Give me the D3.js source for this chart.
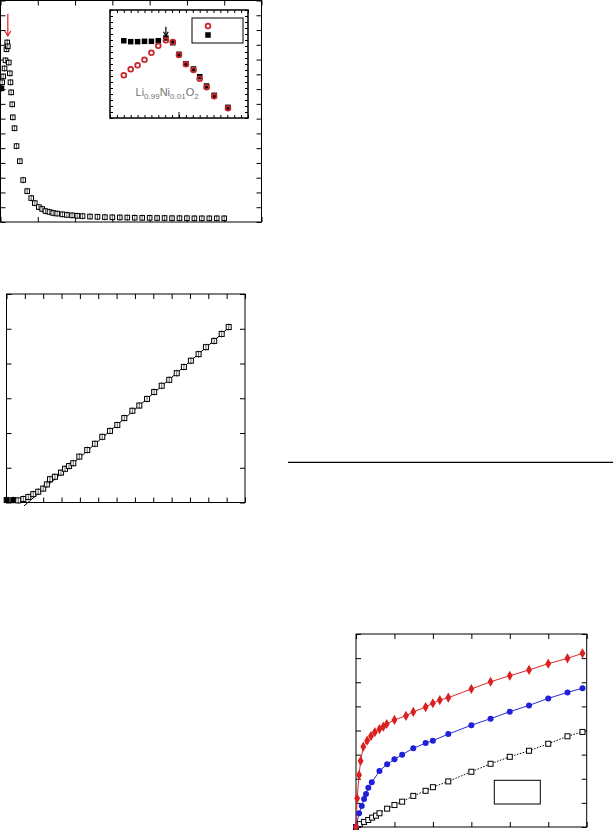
<!DOCTYPE html>
<html><head><meta charset="utf-8">
<script src="https://cdn.jsdelivr.net/npm/d3@7"></script>
<style>body{margin:0;background:#fff;}svg{display:block;}</style>
</head><body>
<svg id="c" width="613" height="830"></svg>
<script>
// ---------- Panel A: main curve (temperature, value) ----------
const mainT   = [1.3,2.3,3.6,5.4,6.7,8.0,9.0,9.8,11.1,12.5,13.4,14.3,15.7,16.5,18.8,21.5,25.9,30.4,35.8,41.2,46,51.4,55.9,60.3,65.7,70.7,76,83,89,96,103,110,120,130,140,150,160,170,180,190,200,210,220,230,240,250,260,270,280,290,300];
const mainVal = [9.05,9.46,9.86,10.4,10.95,11.7,12.16,11.9,10.8,10.07,9.46,8.78,7.97,7.09,6.35,5.14,4.12,2.84,2.09,1.62,1.28,1.01,0.88,0.74,0.68,0.61,0.57,0.52,0.48,0.45,0.42,0.40,0.37,0.35,0.33,0.32,0.31,0.30,0.29,0.28,0.28,0.27,0.27,0.26,0.26,0.26,0.25,0.25,0.25,0.25,0.25];
const mainArrow = {x: 9.8, y0: 14.1, y1: 12.6};
const mainXTicks = [0,50,100,150,200,250,300,350];
const mainYTicks = d3.range(0,16,1);

// ---------- Panel A inset ----------
const insetX     = [2,3,4,5,6,7,8.1,9.1,10,11,12.1,13,14,15.1,17.1];
const insetBlack = [12.88,12.72,12.72,12.78,12.78,12.88,13.33,12.55,10.62,9.05,8.17,6.88,5.33,3.78,1.78];
const insetRed   = [7.12,8.12,8.78,9.72,10.88,12.05,12.95,12.67,10.5,8.95,8.0,6.55,5.12,3.62,1.62];
const insetArrow = {x: 8.1, y0: 15.2, y1: 13.7};
const insetXTicks = d3.range(0,21,1);
const insetYTicks = d3.range(0,19,1);

// ---------- Panel B: linear plot ----------
const linX = [0.01,0.37,0.64,0.92,1.19,1.46,1.73,2.0,2.2,2.37,2.64,2.97,3.19,3.41,3.64,3.97,4.4,4.82,5.22,5.64,6.04,6.42,6.86,7.24,7.66,8.05,8.46,8.87,9.28,9.67,10.05,10.47,10.87,11.32,11.73,12.11];
const linY = [0.07,0.07,0.06,0.10,0.16,0.24,0.31,0.40,0.52,0.67,0.74,0.86,0.97,1.05,1.13,1.32,1.51,1.69,1.89,2.06,2.23,2.43,2.64,2.79,2.98,3.18,3.36,3.53,3.72,3.90,4.08,4.27,4.47,4.65,4.85,5.05];
const linFilled = 2;
const fitX = [0.95,12.2];
const fitY = [-0.1,5.07];
const linXTicks = d3.range(0,14,1);
const linYTicks = d3.range(0,7,1);

// ---------- Panel C: three series ----------
const redX   = [0,0.03,0.08,0.12,0.19,0.29,0.39,0.49,0.61,0.71,0.8,1.0,1.3,1.49,1.81,2.0,2.18,2.4,3.0,3.5,4.0,4.5,5.0,5.5,5.89];
const redY   = [0,1.19,2.16,2.74,3.33,3.58,3.77,3.93,4.06,4.16,4.27,4.44,4.61,4.77,4.97,5.13,5.26,5.36,5.72,6.02,6.27,6.51,6.77,6.99,7.2];
const blueX  = [0,0.08,0.15,0.21,0.26,0.32,0.41,0.61,0.81,1.0,1.2,1.49,1.81,2.0,2.4,3.0,3.5,4.0,4.5,5.0,5.5,5.89];
const blueY  = [0,0.57,0.87,1.16,1.37,1.63,1.85,2.32,2.6,2.81,3.0,3.26,3.48,3.58,3.85,4.22,4.49,4.78,5.04,5.33,5.58,5.75];
const blackX = [0,0.1,0.21,0.32,0.42,0.52,0.61,0.81,1.0,1.2,1.49,1.81,2.0,2.4,3.0,3.5,4.0,4.5,5.0,5.5,5.89];
const blackY = [0,0.12,0.21,0.29,0.39,0.47,0.57,0.76,0.91,1.05,1.29,1.5,1.65,1.89,2.29,2.62,2.91,3.16,3.45,3.76,3.94];
const cXTicks = d3.range(0,7,1);
const cYTicks = d3.range(0,9,1);

const svg = d3.select("#c");

function frame(g, x, y, xt, yt, len, sw) {
  const [x0,x1] = x.range(), [y0,y1] = y.range();
  const mk = (ax, tr) => {
    const a = g.append("g").attr("transform", tr).call(ax.tickFormat("").tickSizeOuter(0));
    a.select(".domain").remove();
    a.selectAll("line").attr("stroke","#000").attr("stroke-width",1);
  };
  mk(d3.axisBottom(x).tickValues(xt).tickSizeInner(-len), `translate(0,${y0})`);
  mk(d3.axisTop(x).tickValues(xt).tickSizeInner(-len), `translate(0,${y1})`);
  mk(d3.axisLeft(y).tickValues(yt).tickSizeInner(-len), `translate(${x0},0)`);
  mk(d3.axisRight(y).tickValues(yt).tickSizeInner(-len), `translate(${x1},0)`);
  g.append("rect").attr("x",x0).attr("y",y1).attr("width",x1-x0).attr("height",y0-y1)
    .attr("fill","none").attr("stroke","#000").attr("stroke-width",sw);
}
function arrow(g, x1, y1, x2, y2, color, head) {
  g.append("line").attr("x1",x1).attr("y1",y1).attr("x2",x2).attr("y2",y2)
    .attr("stroke",color).attr("stroke-width",1.2);
  g.append("path").attr("d",`M${x2-head*0.6},${y2-head} L${x2},${y2} L${x2+head*0.6},${y2-head}`)
    .attr("fill","none").attr("stroke",color).attr("stroke-width",1.2);
}

// ===== Panel A =====
{
  const g = svg.append("g");
  const x = d3.scaleLinear().domain([0,350]).range([0.5,261.5]);
  const y = d3.scaleLinear().domain([0,15]).range([222,0.5]);
  frame(g, x, y, mainXTicks, mainYTicks, 5, 1);
  const s = 4.6;
  g.selectAll("rect.m").data(mainT.map((t,i)=>[t,mainVal[i]])).enter().append("rect")
    .attr("x",d=>x(d[0])-s/2).attr("y",d=>y(d[1])-s/2).attr("width",s).attr("height",s)
    .attr("fill",(d,i)=>i===0?"#000":"#fff").attr("stroke","#000").attr("stroke-width",1);
  g.selectAll("line.eb").data(mainT.map((t,i)=>[t,mainVal[i]])).enter().append("line")
    .attr("x1",d=>x(d[0])).attr("x2",d=>x(d[0])).attr("y1",d=>y(d[1])-s/2-1).attr("y2",d=>y(d[1])+s/2+1)
    .attr("stroke","#000").attr("stroke-width",0.6);
  arrow(g, x(mainArrow.x), y(mainArrow.y0), x(mainArrow.x), y(mainArrow.y1), "#e02020", 5);

  // inset
  const gi = svg.append("g");
  const xi = d3.scaleLinear().domain([0,20]).range([110,248]);
  const yi = d3.scaleLinear().domain([0,18]).range([118,10]);
  gi.append("rect").attr("x",110).attr("y",10).attr("width",138).attr("height",108).attr("fill","#fff");
  frame(gi, xi, yi, insetXTicks, insetYTicks, 3, 1.5);
  gi.selectAll("line.maj").data([10]).enter().append("line")
    .attr("x1",d=>xi(d)).attr("x2",d=>xi(d)).attr("y1",118).attr("y2",112).attr("stroke","#000");
  const rs = 5.5;
  gi.selectAll("rect.b").data(insetX.map((v,i)=>[v,insetBlack[i]])).enter().append("rect")
    .attr("x",d=>xi(d[0])-rs/2).attr("y",d=>yi(d[1])-rs/2).attr("width",rs).attr("height",rs).attr("fill","#000");
  gi.selectAll("circle.r").data(insetX.map((v,i)=>[v,insetRed[i]])).enter().append("circle")
    .attr("cx",d=>xi(d[0])).attr("cy",d=>yi(d[1])).attr("r",2.4)
    .attr("fill","none").attr("stroke","#c8282c").attr("stroke-width",1.8);
  arrow(gi, xi(insetArrow.x), yi(insetArrow.y0), xi(insetArrow.x), yi(insetArrow.y1), "#000", 4);
  const t = gi.append("text").attr("x",xi(3.7)).attr("y",yi(3.7))
    .attr("font-family","Liberation Sans, Arial, sans-serif")
    .attr("font-size",11).attr("fill","#666").attr("opacity",0.9);
  t.append("tspan").attr("fill","#666").text("Li");
  t.append("tspan").attr("fill","#666").attr("font-size",8).attr("dy",3).text("0.99");
  t.append("tspan").attr("fill","#666").attr("dy",-3).text("Ni");
  t.append("tspan").attr("fill","#666").attr("font-size",8).attr("dy",3).text("0.01");
  t.append("tspan").attr("fill","#666").attr("dy",-3).text("O");
  t.append("tspan").attr("fill","#666").attr("font-size",8).attr("dy",3).text("2");
  // legend
  gi.append("rect").attr("x",192).attr("y",18).attr("width",51).attr("height",25)
    .attr("fill","#fff").attr("stroke","#000").attr("stroke-width",1);
  gi.append("circle").attr("cx",208).attr("cy",26).attr("r",2.4).attr("fill","none").attr("stroke","#c8282c").attr("stroke-width",1.8);
  gi.append("rect").attr("x",208-rs/2).attr("y",35-rs/2).attr("width",rs).attr("height",rs).attr("fill","#000");
}

// ===== Panel B =====
{
  const g = svg.append("g");
  const x = d3.scaleLinear().domain([0,13]).range([6.5,245]);
  const y = d3.scaleLinear().domain([0,6]).range([502.5,294]);
  frame(g, x, y, linXTicks, linYTicks, 5, 1);
  g.append("path").datum(fitX.map((v,i)=>[v,fitY[i]]))
    .attr("d", d3.line().x(d=>x(d[0])).y(d=>y(d[1])))
    .attr("fill","none").attr("stroke","#000").attr("stroke-width",1);
  const s = 5;
  const pts = linX.map((v,i)=>[v,linY[i]]);
  g.selectAll("rect.p").data(pts).enter().append("rect")
    .attr("x",d=>x(d[0])-s/2).attr("y",d=>y(d[1])-s/2).attr("width",s).attr("height",s)
    .attr("fill",(d,i)=>i<linFilled?"#000":"#fff").attr("stroke","#000").attr("stroke-width",1);
  g.selectAll("line.e").data(pts).enter().append("line")
    .attr("x1",d=>x(d[0])).attr("x2",d=>x(d[0])).attr("y1",d=>y(d[1])-s/2-1).attr("y2",d=>y(d[1])+s/2+1)
    .attr("stroke","#000").attr("stroke-width",0.6);
}

// separator line
svg.append("line").attr("x1",288).attr("x2",613).attr("y1",462.3).attr("y2",462.3)
  .attr("stroke","#000").attr("stroke-width",1.3);

// ===== Panel C =====
{
  const g = svg.append("g");
  const x = d3.scaleLinear().domain([0,6]).range([356,586.7]);
  const y = d3.scaleLinear().domain([0,8]).range([827,634]);
  frame(g, x, y, cXTicks, cYTicks, 5, 1);
  const line = d3.line().x(d=>x(d[0])).y(d=>y(d[1]));
  const bk = blackX.map((v,i)=>[v,blackY[i]]);
  const bl = blueX.map((v,i)=>[v,blueY[i]]);
  const rd = redX.map((v,i)=>[v,redY[i]]);
  g.append("path").datum(bk).attr("d",line).attr("fill","none").attr("stroke","#000").attr("stroke-width",1).attr("stroke-dasharray","1.5,1.5");
  g.append("path").datum(bl).attr("d",line).attr("fill","none").attr("stroke","#2a2ad4").attr("stroke-width",1);
  g.append("path").datum(rd).attr("d",line).attr("fill","none").attr("stroke","#dc2828").attr("stroke-width",1);
  const s = 5;
  g.selectAll("rect.k").data(bk).enter().append("rect")
    .attr("x",d=>x(d[0])-s/2).attr("y",d=>y(d[1])-s/2).attr("width",s).attr("height",s)
    .attr("fill","#fff").attr("stroke","#000").attr("stroke-width",1);
  g.selectAll("circle.b").data(bl).enter().append("circle")
    .attr("cx",d=>x(d[0])).attr("cy",d=>y(d[1])).attr("r",3).attr("fill","#2020d8");
  g.selectAll("path.r").data(rd).enter().append("path")
    .attr("transform",d=>`translate(${x(d[0])},${y(d[1])})`)
    .attr("d",d3.symbol().type(d3.symbolDiamond).size(30)).attr("fill","#dc2020");
  g.append("rect").attr("x",494.3).attr("y",780.3).attr("width",46).attr("height",23.7)
    .attr("fill","#fff").attr("stroke","#000").attr("stroke-width",1);
}
</script>
</body></html>
